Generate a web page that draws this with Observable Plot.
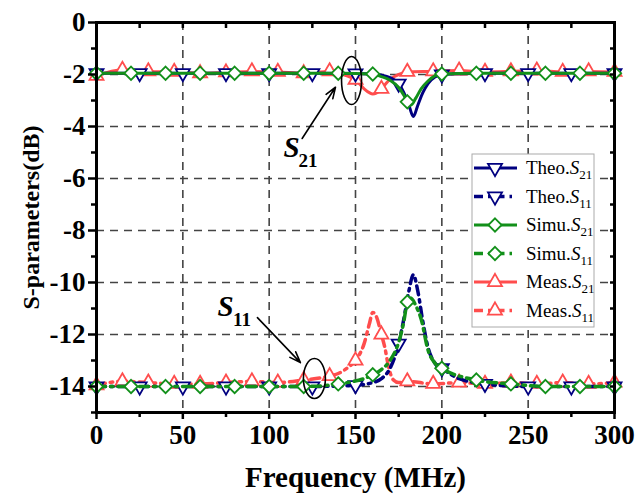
<!DOCTYPE html>
<html><head><meta charset="utf-8">
<script src="https://cdn.jsdelivr.net/npm/d3@7"></script>
<script src="https://cdn.jsdelivr.net/npm/@observablehq/plot@0.6"></script>
<style>
body{margin:0;background:#fff;}
#wrap{position:relative;width:638px;height:495px;}
#legend{position:absolute;left:0;top:0;pointer-events:none;}
</style></head><body><div id="wrap"></div>
<script>
// ---------- data (frequency in MHz, S-parameters in dB) ----------
const theoFreq = [0,25,50,75,100,125,150,160,165,170,175,178,181,183.5,186,189,192,196,200,210,225,250,275,300];
const theoS21  = [-1.95,-1.95,-1.95,-1.95,-1.95,-1.95,-1.96,-1.98,-2.02,-2.12,-2.35,-2.7,-3.2,-3.62,-3.2,-2.7,-2.35,-2.1,-2.0,-1.97,-1.95,-1.95,-1.95,-1.95];
const theoS11  = [-14,-14,-14,-14,-14,-14,-13.95,-13.85,-13.7,-13.3,-12.35,-11.4,-10.3,-9.7,-10.3,-11.5,-12.5,-13.1,-13.3,-13.7,-13.9,-14,-14,-14];
const theoMarkerFreq = [0,25,50,75,100,125,150,175,200,225,250,275,300];

const simuFreq = [0,20,40,60,80,100,120,140,160,165,170,175,178,180,182,185,188,192,196,200,220,240,260,280,300];
const simuS21  = [-1.95,-1.95,-1.95,-1.95,-1.95,-1.95,-1.95,-1.95,-1.98,-2.08,-2.22,-2.5,-2.8,-3.05,-3.18,-2.9,-2.55,-2.25,-2.05,-1.98,-1.95,-1.95,-1.95,-1.95,-1.95];
const simuS11  = [-14,-14,-14,-14,-14,-14,-14,-13.9,-13.55,-13.35,-13.0,-12.3,-11.5,-10.75,-10.6,-10.9,-11.4,-12.6,-13.1,-13.3,-13.75,-13.9,-14,-14,-14];
const simuMarkerFreq = [0,20,40,60,80,100,120,140,160,180,200,220,240,260,280,300];

const measFreq = [0,15,30,45,60,75,90,105,120,135,140,145,150,155,158,160,162,165,167,169,172,175,180,195,210,225,240,255,270,285,300];
const measS21  = [-2.05,-1.82,-1.88,-1.9,-1.95,-1.92,-1.88,-1.9,-1.95,-1.88,-1.95,-2.05,-2.2,-2.55,-2.7,-2.75,-2.72,-2.55,-2.4,-2.25,-2.1,-2.0,-1.9,-1.88,-1.85,-1.9,-1.88,-1.85,-1.9,-1.88,-1.9];
const measS11  = [-13.95,-13.8,-13.85,-13.9,-13.9,-13.85,-13.8,-13.85,-13.75,-13.6,-13.5,-13.3,-13.0,-12.35,-11.6,-11.15,-11.3,-12.0,-12.5,-13.2,-13.75,-13.85,-13.8,-13.9,-13.85,-13.9,-13.85,-13.9,-13.85,-13.9,-13.85];
const measMarkerFreq = [0,15,30,45,60,75,90,105,120,135,150,165,180,195,210,225,240,255,270,285,300];

const xMajor = [0,50,100,150,200,250,300];
const xMinor = [25,75,125,175,225,275];
const yMajor = [-14,-12,-10,-8,-6,-4,-2,0];
const yMinor = [-15,-13,-11,-9,-7,-5,-3,-1];

const legendLabels = [["Theo.","21"],["Theo.","11"],["Simu.","21"],["Simu.","11"],["Meas.","21"],["Meas.","11"]];

// annotations (data coordinates)
const annotText = [{x:112.9,y:-4.81,sub:"21"},{x:74.7,y:-10.92,sub:"11"}];
const annotArrow = [{x1:119.1,y1:-4.46,x2:138.4,y2:-2.49},{x1:93.2,y1:-11.35,x2:118.1,y2:-13.08}];
const annotEllipse = [{x:147.7,y:-2.23,rx:10,ry:24},{x:126.2,y:-13.69,rx:11,ry:20}];

// ---------- build ----------
const NAVY = "#000080", GREEN = "#12901a", RED = "#ff4d4d";
const DASH = "9,5,2.5,5";
const FONT = "'Liberation Serif','Times New Roman',Times,serif";

function rows(freq, vals){ return freq.map((f,i)=>({f, v: vals[i]})); }
function markers(freq, vals, mf){ return rows(freq, vals).filter(d => mf.includes(d.f)); }

const series = [
  {freq: measFreq, s21: measS21, s11: measS11, mf: measMarkerFreq, color: RED, symbol: "triangle", rotate: 0, r: 5.2},
  {freq: theoFreq, s21: theoS21, s11: theoS11, mf: theoMarkerFreq, color: NAVY, symbol: "triangle", rotate: 180, r: 5.2},
  {freq: simuFreq, s21: simuS21, s11: simuS11, mf: simuMarkerFreq, color: GREEN, symbol: "diamond2", rotate: 0, r: 6}
];

function ellipseSymbol(rx, ry){
  const k = 0.5523;
  return {draw(ctx){
    ctx.moveTo(rx,0);
    ctx.bezierCurveTo(rx, ry*k, rx*k, ry, 0, ry);
    ctx.bezierCurveTo(-rx*k, ry, -rx, ry*k, -rx, 0);
    ctx.bezierCurveTo(-rx, -ry*k, -rx*k, -ry, 0, -ry);
    ctx.bezierCurveTo(rx*k, -ry, rx, -ry*k, rx, 0);
    ctx.closePath();
  }};
}

const dataMarks = [];
for (const s of series){
  dataMarks.push(Plot.line(rows(s.freq, s.s11), {x:"f", y:"v", stroke:s.color, strokeWidth:3.5, strokeDasharray:DASH, curve:"monotone-x"}));
  dataMarks.push(Plot.line(rows(s.freq, s.s21), {x:"f", y:"v", stroke:s.color, strokeWidth:3, curve:"monotone-x"}));
  for (const vals of [s.s11, s.s21]){
    dataMarks.push(Plot.dot(markers(s.freq, vals, s.mf), {x:"f", y:"v", symbol:s.symbol, rotate:s.rotate, r:s.r, stroke:s.color, fill:"white", strokeWidth:1.8}));
  }
}

const chart = Plot.plot({
  width: 638, height: 495,
  marginLeft: 96, marginRight: 24, marginTop: 22, marginBottom: 83,
  style: {fontFamily: FONT, fontWeight: "bold", background: "white"},
  x: {domain: [0, 300]},
  y: {domain: [-15, 0]},
  marks: [
    Plot.gridX(xMajor.filter(v => v > 0 && v < 300), {stroke:"#444", strokeOpacity:1, strokeWidth:1.6, strokeDasharray:"8,6"}),
    Plot.gridY(yMajor.filter(v => v < 0), {stroke:"#444", strokeOpacity:1, strokeWidth:1.6, strokeDasharray:"8,6"}),
    ...dataMarks,
    Plot.axisX(xMajor, {tickSize:7, tickPadding:5, fontSize:27, tickFormat:d => String(d), strokeWidth:2.5, label:null}),
    Plot.axisX(xMinor, {tickSize:5, tickFormat:() => "", strokeWidth:2.5, label:null}),
    Plot.axisX([...xMajor, ...xMinor], {anchor:"top", tickSize:-5, tickFormat:() => "", strokeWidth:2.5, label:null}),
    Plot.axisY(yMajor, {tickSize:8, tickPadding:3, fontSize:27, tickFormat:d => String(d), strokeWidth:2.5, label:null}),
    Plot.axisY(yMinor, {tickSize:5, tickFormat:() => "", strokeWidth:2.5, label:null}),
    Plot.axisY([...yMajor, ...yMinor], {anchor:"right", tickSize:-5, tickFormat:() => "", strokeWidth:2.5, label:null}),
    Plot.frame({stroke:"black", strokeWidth:3}),
    Plot.text(["Frequency (MHz)"], {text:d => d, frameAnchor:"bottom", dy:74, fontSize:29, fontWeight:"bold"}),
    Plot.text(["S-parameters(dB)"], {text:d => d, frameAnchor:"left", textAnchor:"middle", dx:-65, rotate:-90, fontSize:24, fontWeight:"bold"}),
    // annotations
    Plot.dot(annotEllipse, {x:"x", y:"y", symbol:d => ellipseSymbol(d.rx, d.ry), stroke:"black", strokeWidth:1.6, fill:"none", r:10}),
    Plot.arrow(annotArrow, {x1:"x1", y1:"y1", x2:"x2", y2:"y2", stroke:"black", strokeWidth:1.6, headLength:11, headAngle:40}),
    Plot.text(annotText, {x:"x", y:"y", text:() => "S", fontSize:29, fontStyle:"italic", fontWeight:"bold"}),
    Plot.text(annotText, {x:"x", y:"y", text:"sub", dx:16.5, dy:13, fontSize:19, fontWeight:"bold"})
  ]
});

const wrap = document.getElementById("wrap");
wrap.appendChild(chart);

// legend overlay
const legendStyles = [
  {color:NAVY, dash:null, symbol:d3.symbolTriangle, rotate:180, size:Math.PI*5.2*5.2},
  {color:NAVY, dash:DASH, symbol:d3.symbolTriangle, rotate:180, size:Math.PI*5.2*5.2},
  {color:GREEN, dash:null, symbol:d3.symbolDiamond2, rotate:0, size:Math.PI*36},
  {color:GREEN, dash:DASH, symbol:d3.symbolDiamond2, rotate:0, size:Math.PI*36},
  {color:RED, dash:null, symbol:d3.symbolTriangle, rotate:0, size:Math.PI*5.2*5.2},
  {color:RED, dash:DASH, symbol:d3.symbolTriangle, rotate:0, size:Math.PI*5.2*5.2}
];
const svg = d3.select(wrap).append("svg").attr("id","legend").attr("width",638).attr("height",495);
const lx = 472, ly = 154, lw = 122, lh = 173, rowH = 28.5, row0 = 168;
svg.append("rect").attr("x",lx).attr("y",ly).attr("width",lw).attr("height",lh).attr("fill","white").attr("stroke","#aaa").attr("stroke-width",1);
legendLabels.forEach((lab, i) => {
  const st = legendStyles[i];
  const cy = row0 + i*rowH;
  svg.append("line").attr("x1",474).attr("x2",517).attr("y1",cy).attr("y2",cy)
    .attr("stroke",st.color).attr("stroke-width",st.dash ? 3.5 : 3).attr("stroke-dasharray",st.dash);
  svg.append("path").attr("d", d3.symbol(st.symbol, st.size)()).attr("transform",`translate(495,${cy}) rotate(${st.rotate})`)
    .attr("fill","white").attr("stroke",st.color).attr("stroke-width",1.8);
  const t = svg.append("text").attr("x",526).attr("y",cy+6).attr("font-family",FONT).attr("font-size",19).attr("fill","black");
  t.append("tspan").text(lab[0]);
  t.append("tspan").attr("font-style","italic").text("S");
  t.append("tspan").attr("font-size",13).attr("dy",5).text(lab[1]);
});
</script></body></html>
